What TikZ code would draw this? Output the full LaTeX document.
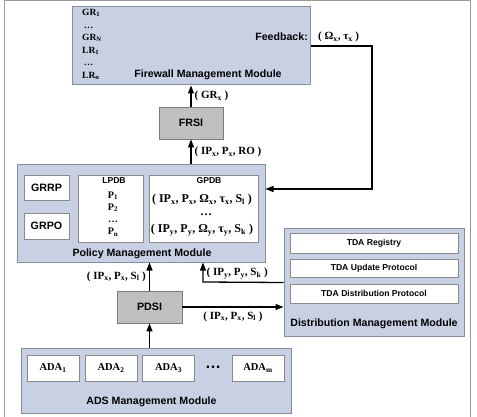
\documentclass[tikz,border=0pt]{standalone}
\usepackage{fontspec}
\setmainfont{Liberation Serif}
\setsansfont{Liberation Sans}
\usetikzlibrary{arrows.meta}
\definecolor{modblue}{HTML}{C8D1E4}
\definecolor{modedge}{HTML}{858EA0}
\definecolor{ifgray}{HTML}{C0C0C0}
\definecolor{ifedge}{HTML}{7A7A7A}
\definecolor{celledge}{HTML}{8A8A8A}
\definecolor{framegray}{HTML}{9A9A9A}
\newcommand{\sbs}[1]{\textsubscript{#1}}

\begin{document}
\begin{tikzpicture}[x=1pt,y=-1pt,
  module/.style={draw=modedge,fill=modblue,line width=1pt,inner sep=0pt},
  cell/.style={draw=celledge,fill=white,line width=0.8pt,inner sep=0pt},
  iface/.style={draw=ifedge,fill=ifgray,line width=0.8pt,inner sep=0pt,font=\sffamily\bfseries\fontsize{10.7}{12}\selectfont},
  modlabel/.style={font=\sffamily\bfseries\fontsize{10.6}{12}\selectfont,inner sep=0pt},
  small/.style={font=\sffamily\bfseries\fontsize{8.6}{10}\selectfont,inner sep=0pt},
  tuple/.style={font=\bfseries\fontsize{11}{12}\selectfont,inner sep=0pt},
  ar/.style={-{Triangle[length=8pt,width=6pt]},line width=1.3pt}]
\useasboundingbox (0,0) rectangle (477,417);
\draw[framegray,line width=1pt] (4.5,0.5) rectangle (470,420);
% firewall management
\node[module,minimum width=238pt,minimum height=78pt] (fmm) at (191,46) {};
\node[modlabel] (fmmlabel) at (208,75) {Firewall Management Module};
\node[anchor=north west,align=left,inner sep=0pt,font=\bfseries\fontsize{9.5}{12.6}\selectfont] (rules) at (82,9)
  {GR\sbs{1}\\ \,…\\ GR\sbs{N}\\ LR\sbs{1}\\ \,…\\ LR\sbs{n}};
\node[modlabel,anchor=east] (fblabel) at (308,37) {Feedback:};
\node[tuple,anchor=west] (fbtuple) at (318,37) {( Ω\sbs{x}, τ\sbs{x} )};
% interfaces
\node[iface,minimum width=64pt,minimum height=32pt] (frsi) at (191,123) {FRSI};
\node[iface,minimum width=65pt,minimum height=32pt] (pdsi) at (149.5,307) {PDSI};
% policy management
\node[module,minimum width=248pt,minimum height=97pt] (pmm) at (141,213.5) {};
\node[modlabel] (pmmlabel) at (142,254) {Policy Management Module};
\node[cell,minimum width=45pt,minimum height=25pt,font=\sffamily\bfseries\fontsize{10.7}{12}\selectfont] (grrp) at (46.5,187.5) {GRRP};
\node[cell,minimum width=45pt,minimum height=26pt,font=\sffamily\bfseries\fontsize{10.7}{12}\selectfont] (grpo) at (46.5,226) {GRPO};
\node[cell,minimum width=65pt,minimum height=67pt] (lpdb) at (110.5,208.5) {};
\node[small] (lpdblabel) at (114,181) {LPDB};
\node[align=center,inner sep=0pt,font=\bfseries\fontsize{10}{12.3}\selectfont] (plist) at (113,214)
  {P\sbs{1}\\ P\sbs{2}\\ …\\ P\sbs{n}};
\node[cell,minimum width=109pt,minimum height=67pt] (gpdb) at (203.5,208.5) {};
\node[small] (gpdblabel) at (209,181) {GPDB};
\node[tuple,font=\bfseries\fontsize{12}{14}\selectfont] (gpdbx) at (202,200) {( IP\sbs{x}, P\sbs{x}, Ω\sbs{x}, τ\sbs{x}, S\sbs{l} )};
\node[tuple,font=\bfseries\fontsize{12}{14}\selectfont] (gpdbdots) at (206,215) {…};
\node[tuple,font=\bfseries\fontsize{12}{14}\selectfont] (gpdby) at (202,230) {( IP\sbs{y}, P\sbs{y}, Ω\sbs{y}, τ\sbs{y}, S\sbs{k} )};
% distribution management
\node[module,minimum width=180pt,minimum height=107pt] (dmm) at (374,282.5) {};
\node[modlabel] (dmmlabel) at (374,324) {Distribution Management Module};
\node[cell,small,minimum width=168pt,minimum height=20pt] (reg) at (374,243) {TDA Registry};
\node[cell,small,minimum width=168pt,minimum height=18pt] (upd) at (374,268) {TDA Update Protocol};
\node[cell,small,minimum width=168pt,minimum height=19pt] (dist) at (374,293.5) {TDA Distribution Protocol};
% ADS management
\node[module,minimum width=270pt,minimum height=65pt] (ads) at (156,380.5) {};
\node[modlabel] (adslabel) at (151.5,402) {ADS Management Module};
\node[cell,minimum width=52pt,minimum height=26pt,font=\bfseries\fontsize{10.5}{12}\selectfont] (ada1) at (53,368) {ADA\sbs{1}};
\node[cell,minimum width=52pt,minimum height=26pt,font=\bfseries\fontsize{10.5}{12}\selectfont] (ada2) at (111,368) {ADA\sbs{2}};
\node[cell,minimum width=52pt,minimum height=26pt,font=\bfseries\fontsize{10.5}{12}\selectfont] (ada3) at (168.5,368) {ADA\sbs{3}};
\node[inner sep=0pt,font=\sffamily\bfseries\fontsize{16}{16}\selectfont] (adadots) at (213,367) {…};
\node[cell,minimum width=52pt,minimum height=26pt,font=\bfseries\fontsize{10.5}{12}\selectfont] (adam) at (258,368) {ADA\sbs{m}};
% connectors
\coordinate (fbturn) at (372,189);
\coordinate (dmmturn) at (203,282);
\draw[ar] (frsi.north) -- node[tuple,right=3pt] {( GR\sbs{x} )} (fmm.south -| frsi);
\draw[ar] (frsi.south |- pmm.north) -- node[tuple,right=3pt] {( IP\sbs{x}, P\sbs{x}, RO )} (frsi.south);
\draw[ar] (fmm.east) -| (fbturn) -- (fbturn -| pmm.east);
\draw[ar] (pdsi.north) -- node[tuple,left=3pt] {( IP\sbs{x}, P\sbs{x}, S\sbs{l} )} (pdsi.north |- pmm.south);
\draw[ar] (ads.north -| pdsi) -- (pdsi.south);
\draw[ar] (pdsi.east) -- node[tuple,below=4pt] {( IP\sbs{x}, P\sbs{x}, S\sbs{l} )} (pdsi.east -| dmm.west);
\draw[ar] (dmm.west) -- (dmmturn) -- node[tuple,right=3pt,pos=0.45] {( IP\sbs{y}, P\sbs{y}, S\sbs{k} )} (dmmturn |- pmm.south);
\end{tikzpicture}
\end{document}
